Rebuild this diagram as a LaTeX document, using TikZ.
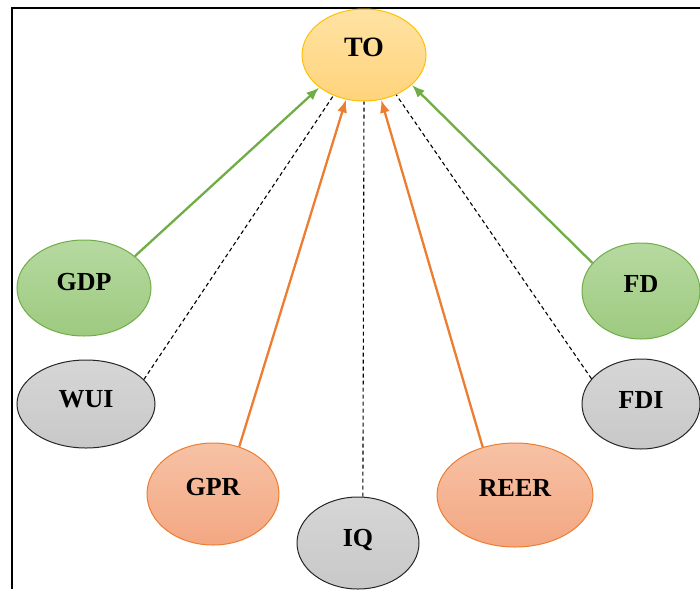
\documentclass[tikz,border=0pt]{standalone}
\usepackage{fontspec}
\setmainfont{Liberation Serif}
\usepackage{tikz}
\usetikzlibrary{arrows.meta,shapes.geometric}

\definecolor{toline}{HTML}{FFC000}
\definecolor{totop}{HTML}{FFE3A3}
\definecolor{tobot}{HTML}{FFD37C}
\definecolor{grline}{HTML}{70AD47}
\definecolor{grtop}{HTML}{B6D9A0}
\definecolor{grbot}{HTML}{9ECA80}
\definecolor{orline}{HTML}{ED7D31}
\definecolor{ortop}{HTML}{F7C2A5}
\definecolor{orbot}{HTML}{F3A782}
\definecolor{gytop}{HTML}{D6D6D6}
\definecolor{gybot}{HTML}{C8C8C8}

\tikzset{
	var/.style={ellipse, inner sep=0pt, line width=1pt, font=\fontsize{26}{26}\selectfont\bfseries},
	target/.style={var, draw=toline, top color=totop, bottom color=tobot},
	green/.style={var, draw=grline, top color=grtop, bottom color=grbot},
	grey/.style={var, draw=black!85, top color=gytop, bottom color=gybot},
	orange/.style={var, draw=orline, top color=ortop, bottom color=orbot},
	sig/.style={-{Latex[length=13pt,width=10pt]}, line width=2.3pt},
	insig/.style={dashed, dash pattern=on 4pt off 3pt, line width=1.1pt}
}

\begin{document}
\begin{tikzpicture}[x=1pt,y=-1pt]
		\useasboundingbox (0,0) rectangle (700,589);
		\draw[line width=2.2pt] (12,589) -- (12,8) -- (700,8);
		
		\node[target, minimum width=124pt, minimum height=92pt](TO) at (364,55){\raisebox{16pt}{\fontsize{28}{28}\selectfont TO}};
		
		\node[green, minimum width=134pt, minimum height=96pt](GDP) at (84,288){\raisebox{12pt}{GDP}};
		\node[grey, minimum width=138pt, minimum height=88pt](WUI) at (86,404){\raisebox{11pt}{WUI}};
		\node[orange, minimum width=132pt, minimum height=102pt](GPR) at (213,494){\raisebox{14pt}{GPR}};
		\node[grey, minimum width=122pt, minimum height=92pt](IQ) at (358,543){\raisebox{10pt}{IQ}};
		\node[orange, minimum width=156pt, minimum height=104pt](REER) at (515,495){\raisebox{14pt}{REER}};
		\node[grey, minimum width=118pt, minimum height=90pt](FDI) at (641,404){\raisebox{8pt}{FDI}};
		\node[green, minimum width=118pt, minimum height=96pt](FD) at (641,291){\raisebox{15pt}{FD}};
		
		\draw[sig, grline] (GDP.32) -- (TO.216);
		\draw[insig] (WUI.23) -- (TO.233);
		\draw[sig, orline] (GPR.61) -- (TO.248);
		\draw[insig] (IQ.84) -- (TO.270);
		\draw[sig, orline] (REER.124) -- (TO.291);
		\draw[insig] (FDI.153) -- (TO.309);
		\draw[sig, grline] (FD.150) -- (TO.328);
		\end{tikzpicture}
\end{document}
